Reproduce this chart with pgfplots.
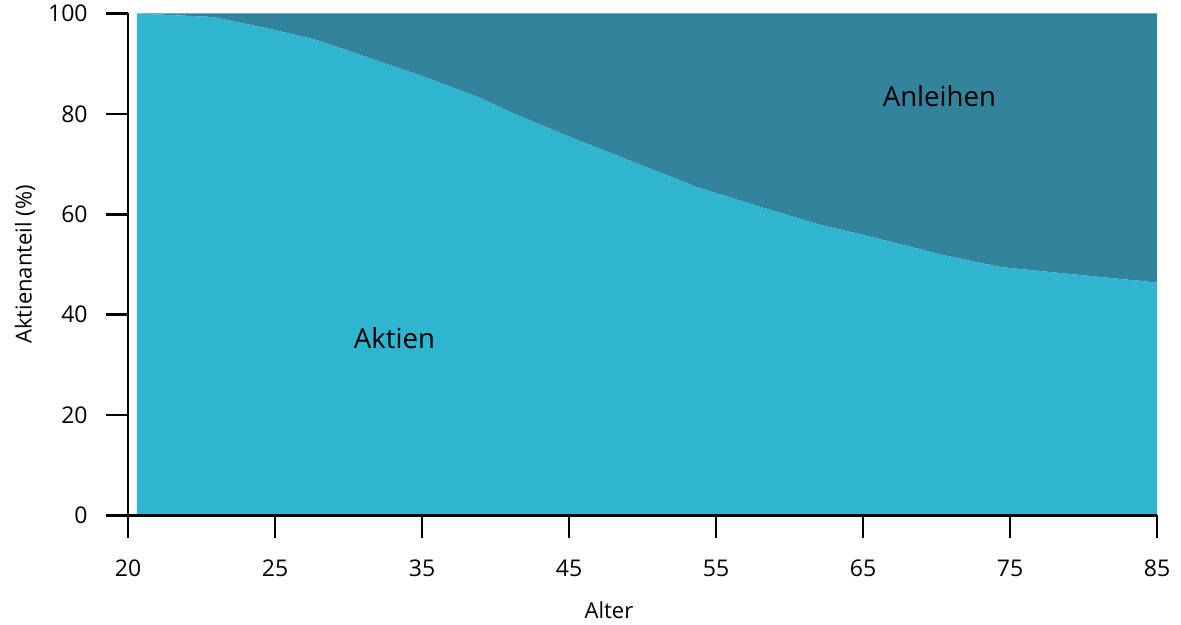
\documentclass[border=0pt]{standalone}
\usepackage{pgfplots}
\pgfplotsset{compat=1.18}
\usepgfplotslibrary{fillbetween}
\usepackage{pgfplotstable}
\usepackage{fontspec}
\setmainfont{Open Sans}

\definecolor{aktien}{RGB}{48,181,209}
\definecolor{anleihen}{RGB}{49,132,155}

% Equity share by age; x is the position on the age axis (0 = 20, 1 = 25, 2 = 35, ...)
\pgfplotstableread{
x      aktien
0.061  100.0
0.578  99.3
1.000  96.7
1.286  94.7
1.646  91.1
1.986  87.7
2.395  83.2
2.619  80.1
3.007  75.4
3.231  72.8
3.871  65.4
4.299  61.5
4.707  57.9
5.000  55.9
5.544  51.9
5.932  49.5
6.340  48.3
7.000  46.4
}\allocation

\begin{document}
\begin{tikzpicture}
\begin{axis}[
  at={(0,0)}, anchor=south west,
  scale only axis,
  width=514.5pt, height=251pt,
  xmin=0, xmax=7, ymin=0, ymax=100,
  axis x line*=bottom, axis y line*=left,
  axis line style={line width=1.25pt, -},
  tick style={line width=1.25pt, black},
  tick align=outside,
  major tick length=11pt,
  xtick={0,1,2,3,4,5,6,7},
  xticklabels={20,25,35,45,55,65,75,85},
  ytick={0,20,40,60,80,100},
  /pgf/number format/assume math mode=true,
  ticklabel style={font=\fontsize{11.5}{13}\selectfont},
  xticklabel style={anchor=base, inner sep=0pt, yshift=-19.5pt},
  yticklabel style={anchor=east, inner sep=0pt, xshift=-9pt},
  xlabel={Alter},
  ylabel={Aktienanteil (\%)},
  label style={font=\fontsize{11}{13}\selectfont},
  xlabel style={at={(axis description cs:0.4674,-0.2042)}, anchor=base},
  ylabel style={at={(axis description cs:-0.1001,0.5)}, anchor=center},
  clip=false,
  axis on top,
]
% bonds: between the equity curve and the 100 % line
\addplot[draw=none, name path=equity] table[x=x, y=aktien] {\allocation};
\addplot[draw=none, name path=full] coordinates {(0.061,100) (7,100)};
\addplot[fill=anleihen, draw=none] fill between[of=equity and full];
% equities: below the curve
\addplot[fill=aktien, draw=none] table[x=x, y=aktien] {\allocation} \closedcycle;
\node[anchor=base, font=\fontsize{13.8}{16}\selectfont] at (axis cs:1.813,33.2) {Aktien};
\node[anchor=base, font=\fontsize{13.8}{16}\selectfont] at (axis cs:5.52,81.4) {Anleihen};
\end{axis}
\path (-64pt,-54.75pt) rectangle (526.5pt,257.75pt);
\end{tikzpicture}
\end{document}
